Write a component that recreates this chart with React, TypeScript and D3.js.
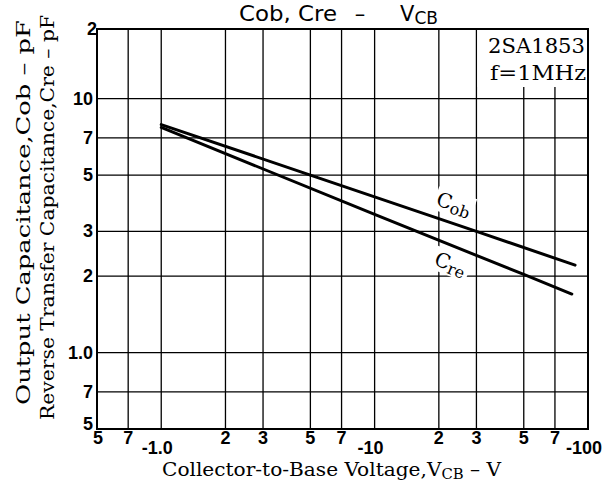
import React from 'react';
import * as d3 from 'd3';

// values (|VCB| in V, capacitance in pF)
const cobPoints = [
  { v: 1, c: 7.9 },
  { v: 5, c: 5.0 },
  { v: 30, c: 3.0 },
  { v: 87, c: 2.21 },
];
const crePoints = [
  { v: 1, c: 7.7 },
  { v: 10, c: 3.5 },
  { v: 50, c: 2.03 },
  { v: 84, c: 1.7 },
];

const xGrid = [0.7, 1, 2, 3, 5, 7, 10, 20, 30, 50, 70];
const yGrid = [0.7, 1, 2, 3, 5, 7, 10];

const xTicks = [0.5, 0.7, 1, 2, 3, 5, 7, 10, 20, 30, 50, 70, 100];
const xTickLabels = ['5', '7', '-1.0', '2', '3', '5', '7', '-10', '2', '3', '5', '7', '-100'];
const yTicks = [0.5, 0.7, 1, 2, 3, 5, 7, 10, 20];
const yTickLabels = ['5', '7', '1.0', '2', '3', '5', '7', '10', '2'];

const W = 602;
const H = 486;

const App = () => {
  const x = d3.scaleLog().domain([0.5, 100]).range([97, 588]);
  const y = d3.scaleLog().domain([0.5, 18.8]).range([429, 29]).clamp(true);

  const line = d3
    .line<{ v: number; c: number }>()
    .x((d) => x(d.v))
    .y((d) => y(d.c));

  const left = x(0.5);
  const right = x(100);
  const top = y(20);
  const bottom = y(0.5);

  const tickFont = { fontFamily: '"Liberation Sans", Arial, sans-serif', fontWeight: 700, fontSize: 18 };
  const serif = '"DejaVu Serif", serif';
  const sans = '"DejaVu Sans", sans-serif';

  return (
    <svg width={W} height={H} style={{ position: 'absolute', left: 0, top: 0, background: '#fff' }}>
      <rect x={0} y={0} width={W} height={H} fill="#fff" />

      {/* title */}
      <text x={239} y={21} fontFamily={sans} fontSize={21} textLength={98} lengthAdjust="spacingAndGlyphs">
        Cob, Cre
      </text>
      <text x={360} y={21} fontFamily={sans} fontSize={21} textAnchor="middle">–</text>
      <text x={400} y={21} fontFamily={sans} fontSize={21}>
        V<tspan fontSize={17} dy={3}>CB</tspan>
      </text>

      {/* grid */}
      {xGrid.map((v) => (
        <line key={'gx' + v} x1={x(v)} x2={x(v)} y1={top} y2={bottom} stroke="#000" strokeWidth={1.3} />
      ))}
      {yGrid.map((v) => (
        <line key={'gy' + v} x1={left} x2={right} y1={y(v)} y2={y(v)} stroke="#000" strokeWidth={1.3} />
      ))}

      {/* legend box covers the grid in the top right corner */}
      <rect x={x(30) + 1} y={top} width={right - x(30) - 1} height={58} fill="#fff" />
      <text x={488} y={53} fontFamily={serif} fontSize={20} textLength={97} lengthAdjust="spacingAndGlyphs">
        2SA1853
      </text>
      <text x={490} y={80} fontFamily={serif} fontSize={20} textLength={96} lengthAdjust="spacingAndGlyphs">
        f=1MHz
      </text>

      {/* frame */}
      <rect x={left} y={top} width={right - left} height={bottom - top} fill="none" stroke="#000" strokeWidth={2} />

      {/* curves */}
      <path d={line(cobPoints) || ''} fill="none" stroke="#000" strokeWidth={3} strokeLinecap="round" />
      <path d={line(crePoints) || ''} fill="none" stroke="#000" strokeWidth={3} strokeLinecap="round" />

      {/* curve labels */}
      <g transform="translate(454,205) rotate(19)">
        <rect x={-20} y={-13} width={40} height={24} fill="#fff" />
        <text x={-18} y={6} fontFamily={serif} fontSize={20}>
          C<tspan fontSize={16} dy={3}>ob</tspan>
        </text>
      </g>
      <g transform="translate(451,265) rotate(22)">
        <rect x={-19} y={-13} width={38} height={24} fill="#fff" />
        <text x={-17} y={6} fontFamily={serif} fontSize={20}>
          C<tspan fontSize={16} dy={3}>re</tspan>
        </text>
      </g>

      {/* y tick labels */}
      {yTicks.map((v, i) => (
        <text
          key={'yt' + i}
          x={i === yTicks.length - 1 ? 97 : 93}
          y={y(v) + 6 - (i === 0 ? 5 : 0)}
          textAnchor="end"
          {...tickFont}
        >
          {yTickLabels[i]}
        </text>
      ))}

      {/* x tick labels */}
      {xTicks.map((v, i) => {
        const lab = xTickLabels[i];
        const neg = lab.startsWith('-');
        return (
          <text
            key={'xt' + i}
            x={x(v) + (neg ? -4 : 0) + (i === 0 ? 1 : 0)}
            y={neg ? 454 : 444}
            textAnchor="middle"
            {...tickFont}
          >
            {lab}
          </text>
        );
      })}

      {/* axis titles */}
      <text x={162} y={476} fontFamily={serif} fontSize={19} textLength={339} lengthAdjust="spacingAndGlyphs">
        Collector-to-Base Voltage,V<tspan fontSize={14} dy={3}>CB</tspan>
        <tspan dy={-3}> – V</tspan>
      </text>
      <text
        transform="translate(30,405) rotate(-90)"
        fontFamily={serif}
        fontSize={18}
        textLength={385}
        lengthAdjust="spacingAndGlyphs"
      >
        Output Capacitance,Cob – pF
      </text>
      <text
        transform="translate(54,420) rotate(-90)"
        fontFamily={serif}
        fontSize={18}
        textLength={405}
        lengthAdjust="spacingAndGlyphs"
      >
        Reverse Transfer Capacitance,Cre – pF
      </text>
    </svg>
  );
};

export default App;
